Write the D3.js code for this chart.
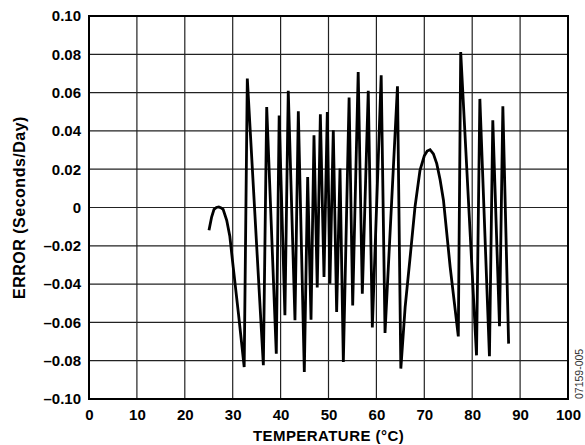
<!DOCTYPE html>
<html>
<head>
<meta charset="utf-8">
<script src="https://cdn.jsdelivr.net/npm/d3@7"></script>
<style>
  html, body { margin: 0; padding: 0; background: #fff; }
  svg { display: block; }
  text { font-family: "Liberation Sans", Arial, sans-serif; }
</style>
</head>
<body>
<svg id="chart" width="585" height="445"></svg>
<script>
// temperature (°C) readings and the matching error (s/day)
const temps = [
  25.05, 25.6, 26.1, 26.6, 27.1, 27.6, 28.0, 28.75, 29.4, 30.1, 31.2, 32.4,
  33.05, 36.4, 37.1, 39.1, 39.7, 40.9, 41.6, 43.0, 43.7, 44.95,
  45.65, 46.35, 46.97, 47.65, 48.3, 49.06, 49.75, 50.3, 51.0, 51.7,
  52.4, 53.1, 54.3, 55.05, 56.2, 57.06, 58.3, 59.15, 61.0, 61.8,
  64.4, 65.1, 66.0, 67.0, 68.06, 69.1, 70.0, 70.6, 71.2, 71.9, 72.6, 73.3, 74.0,
  75.4, 77.1, 77.6, 80.9, 81.6, 83.6, 84.3, 85.7, 86.4, 87.6
];
const errors = [
  -0.0119, -0.005, -0.001, 0.0, 0.0003, -0.0002, -0.001, -0.0067, -0.015, -0.031, -0.0554, -0.0833,
  0.0673, -0.0824, 0.0525, -0.0763, 0.048, -0.0563, 0.0609, -0.0589, 0.0502, -0.0859,
  0.0159, -0.0586, 0.0377, -0.0418, 0.0487, -0.0363, 0.0499, -0.0398, 0.0403, -0.0546,
  0.0203, -0.0807, 0.0574, -0.0511, 0.0708, -0.045, 0.0609, -0.0627, 0.069, -0.0655,
  0.0633, -0.0841, -0.052, -0.027, 0.0003, 0.0194, 0.027, 0.0295, 0.0302, 0.028, 0.0229, 0.0145, 0.0038,
  -0.0311, -0.0673, 0.0812, -0.0772, 0.0567, -0.0777, 0.0455, -0.062, 0.0528, -0.0711
];

const xTicks = [0, 10, 20, 30, 40, 50, 60, 70, 80, 90, 100];
const yTicks = [-0.10, -0.08, -0.06, -0.04, -0.02, 0, 0.02, 0.04, 0.06, 0.08, 0.10];

const xTitle = "TEMPERATURE (°C)";
const yTitle = "ERROR (Seconds/Day)";
const figId = "07159-005";

const margin = { top: 16, left: 89, right: 17, bottom: 46 };
const W = 585, H = 445;
const w = W - margin.left - margin.right;
const h = H - margin.top - margin.bottom;

const svg = d3.select("#chart");
const g = svg.append("g").attr("transform", `translate(${margin.left},${margin.top})`);

const x = d3.scaleLinear().domain([0, 100]).range([0, w]);
const y = d3.scaleLinear().domain([-0.10, 0.10]).range([h, 0]);

// grid
g.append("g")
  .selectAll("line")
  .data(xTicks)
  .join("line")
  .attr("x1", d => x(d)).attr("x2", d => x(d))
  .attr("y1", 0).attr("y2", h)
  .attr("stroke", "#222").attr("stroke-width", 1.2);

g.append("g")
  .selectAll("line")
  .data(yTicks)
  .join("line")
  .attr("x1", 0).attr("x2", w)
  .attr("y1", d => y(d)).attr("y2", d => y(d))
  .attr("stroke", "#222").attr("stroke-width", 1.2);

// frame
g.append("rect")
  .attr("width", w).attr("height", h)
  .attr("fill", "none").attr("stroke", "#000").attr("stroke-width", 2);

const fmt = d => d === 0 ? "0" : (d < 0 ? "\u2013" : "") + Math.abs(d).toFixed(2);

// axes, ticks hidden - the grid does that job
const xAxis = g.append("g")
  .attr("transform", `translate(0,${h})`)
  .call(d3.axisBottom(x).tickValues(xTicks).tickSize(0).tickPadding(10));
const yAxis = g.append("g")
  .call(d3.axisLeft(y).tickValues(yTicks).tickFormat(fmt).tickSize(0).tickPadding(8));

[xAxis, yAxis].forEach(a => {
  a.select(".domain").remove();
  a.selectAll("text")
    .attr("font-family", "Liberation Sans, Arial, sans-serif")
    .attr("font-size", 15)
    .attr("font-weight", "bold")
    .attr("fill", "#000");
});
xAxis.selectAll("text").attr("dy", "0.71em");

// the data line
const line = d3.line()
  .x((d, i) => x(temps[i]))
  .y(d => y(d));

g.append("path")
  .datum(errors)
  .attr("d", line)
  .attr("fill", "none")
  .attr("stroke", "#000")
  .attr("stroke-width", 2.8)
  .attr("stroke-linejoin", "miter");

// titles
svg.append("text")
  .attr("x", margin.left + w / 2)
  .attr("y", 441)
  .attr("text-anchor", "middle")
  .attr("font-size", 15)
  .attr("letter-spacing", 0.45)
  .attr("font-weight", "bold")
  .text(xTitle);

svg.append("text")
  .attr("transform", `translate(25,${margin.top + y(0)}) rotate(-90)`)
  .attr("text-anchor", "middle")
  .attr("font-size", 16)
  .attr("letter-spacing", 0.5)
  .attr("font-weight", "bold")
  .text(yTitle);

svg.append("text")
  .attr("transform", `translate(583,${margin.top + h}) rotate(-90)`)
  .attr("text-anchor", "start")
  .attr("font-size", 10.5)
  .attr("fill", "#333")
  .text(figId);
</script>
</body>
</html>
